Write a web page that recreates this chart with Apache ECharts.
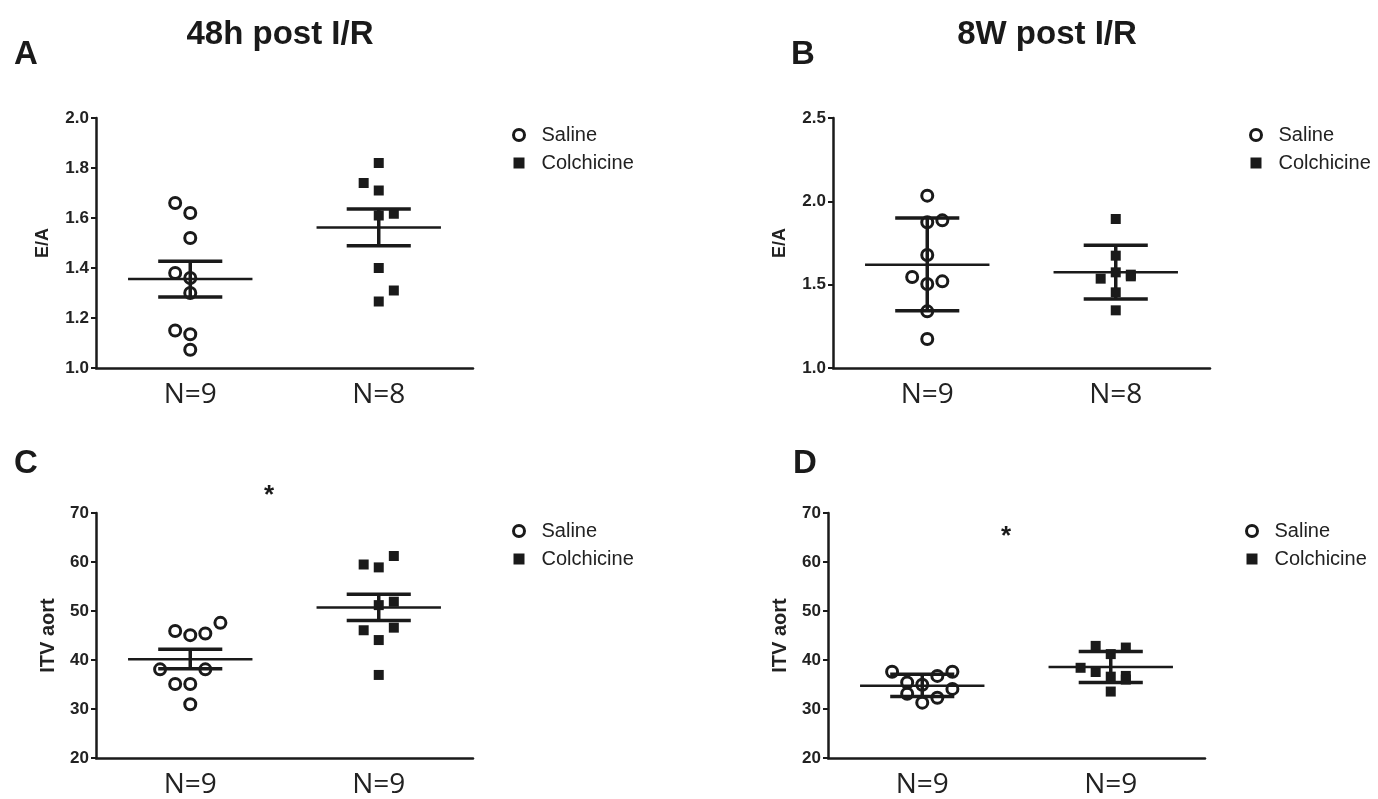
<!DOCTYPE html>
<html>
<head>
<meta charset="utf-8">
<script src="https://cdn.jsdelivr.net/npm/echarts@6/dist/echarts.min.js"></script>
<style>
  html, body { margin: 0; padding: 0; background: #fff; }
  #charts { width: 1378px; height: 799px; }
</style>
</head>
<body>
<div id="charts"></div>
<script>
// data
var groupNames = ['Saline', 'Colchicine'];

// A: E/A 48h
var labelsA = ['N=9', 'N=8'];
var salineA = [1.66, 1.62, 1.52, 1.38, 1.36, 1.30, 1.15, 1.135, 1.073];
var salineAJit = [-1, 0, 0, -1, 0, 0, -1, 0, 0];
var colchA = [1.82, 1.74, 1.71, 1.61, 1.617, 1.40, 1.31, 1.266];
var colchAJit = [0, -1, 0, 0, 1, 0, 1, 0];
var statsA = [[1.356, 1.284, 1.427], [1.562, 1.489, 1.636]]; // mean, low, high

// B: E/A 8W
var labelsB = ['N=9', 'N=8'];
var salineB = [2.034, 1.874, 1.886, 1.678, 1.546, 1.52, 1.504, 1.34, 1.174];
var salineBJit = [0, 0, 1, 0, -1, 1, 0, 0, 0];
var colchB = [1.894, 1.674, 1.574, 1.536, 1.56, 1.454, 1.346, 1.55];
var colchBJit = [0, 0, 0, -1, 1, 0, 0, 1];
var statsB = [[1.620, 1.344, 1.900], [1.574, 1.414, 1.736]];

// C: ITV aort 48h
var labelsC = ['N=9', 'N=9'];
var salineC = [45.93, 45.07, 45.4, 47.58, 38.09, 38.09, 35.1, 35.1, 30.97];
var salineCJit = [-1, 0, 1, 2, -2, 1, -1, 0, 0];
var colchC = [61.22, 59.49, 58.9, 51.9, 51.2, 46.07, 46.6, 44.07, 36.95];
var colchCJit = [1, -1, 0, 1, 0, -1, 1, 0, 0];
var statsC = [[40.14, 38.2, 42.2], [50.71, 48.06, 53.4]];

// D: ITV aort 8W
var labelsD = ['N=9', 'N=9'];
var salineD = [37.6, 36.75, 37.6, 35.42, 34.96, 34.1, 33.1, 32.3, 31.3];
var salineDJit = [-2, 1, 2, -1, 0, 2, -1, 1, 0];
var colchD = [42.88, 42.54, 41.2, 38.41, 37.55, 36.6, 36.75, 33.56, 36.0];
var colchDJit = [-1, 1, 0, -2, -1, 0, 1, 0, 1];
var statsD = [[34.76, 32.56, 37.1], [38.55, 35.42, 41.74]];

var INK = '#1a1a1a';
var JIT = 0.08;

var chart = echarts.init(document.getElementById('charts'));

function toPoints(vals, jit, g) {
    return vals.map(function (v, i) { return [g + jit[i] * JIT, v]; });
}

// mean line + error bar with caps
function errRender(params, api) {
    var x = api.value(0);
    var c = api.coord([x, api.value(1)]);
    var lo = api.coord([x, api.value(2)]);
    var hi = api.coord([x, api.value(3)]);
    var hm = api.size([0.33, 0])[0];
    var hc = api.size([0.17, 0])[0];
    var thin = { stroke: INK, lineWidth: 2.5 };
    var thick = { stroke: INK, lineWidth: 3.5 };
    return {
        type: 'group',
        children: [
            { type: 'line', shape: { x1: c[0] - hm, y1: c[1], x2: c[0] + hm, y2: c[1] }, style: thin },
            { type: 'line', shape: { x1: lo[0], y1: lo[1], x2: hi[0], y2: hi[1] }, style: thick },
            { type: 'line', shape: { x1: lo[0] - hc, y1: lo[1], x2: lo[0] + hc, y2: lo[1] }, style: thick },
            { type: 'line', shape: { x1: hi[0] - hc, y1: hi[1], x2: hi[0] + hc, y2: hi[1] }, style: thick }
        ]
    };
}

var panels = [
    { box: { left: 96, top: 118, width: 377, height: 250 }, labels: labelsA, yname: 'E/A', ymin: 1.0, ymax: 2.0, step: 0.2, dec: 1,
      s: salineA, sj: salineAJit, c: colchA, cj: colchAJit, stats: statsA, legend: [507, 120] },
    { box: { left: 833, top: 118, width: 377, height: 250 }, labels: labelsB, yname: 'E/A', ymin: 1.0, ymax: 2.5, step: 0.5, dec: 1,
      s: salineB, sj: salineBJit, c: colchB, cj: colchBJit, stats: statsB, legend: [1244, 120] },
    { box: { left: 96, top: 513, width: 377, height: 251 }, labels: labelsC, yname: 'ITV aort', ymin: 20, ymax: 70, step: 10, dec: 0,
      s: salineC, sj: salineCJit, c: colchC, cj: colchCJit, stats: statsC, legend: [507, 516] },
    { box: { left: 828, top: 513, width: 377, height: 251 }, labels: labelsD, yname: 'ITV aort', ymin: 20, ymax: 70, step: 10, dec: 0,
      s: salineD, sj: salineDJit, c: colchD, cj: colchDJit, stats: statsD, legend: [1240, 516] }
];

var grid = [], xAxis = [], yAxis = [], series = [], legend = [];

panels.forEach(function (p, k) {
    grid.push(p.box);
    xAxis.push({
        type: 'value', gridIndex: k, min: -0.5, max: 1.5,
        splitLine: { show: false },
        axisTick: { show: false },
        axisLine: { show: true, onZero: false, lineStyle: { color: INK, width: 2.5 } },
        axisLabel: {
            customValues: [0, 1],
            margin: 13,
            color: '#222',
            fontFamily: 'Open Sans',
            fontSize: 28,
            formatter: (function (labels) { return function (v) { return labels[Math.round(v)]; }; })(p.labels)
        }
    });
    yAxis.push({
        type: 'value', gridIndex: k, min: p.ymin, max: p.ymax, interval: p.step,
        name: p.yname, nameLocation: 'middle', nameRotate: 90,
        nameGap: k < 2 ? 44 : 38,
        nameTextStyle: { fontFamily: 'Liberation Sans', fontWeight: 'bold', fontSize: k < 2 ? 18 : 20, color: '#222' },
        splitLine: { show: false },
        axisLine: { show: true, onZero: false, lineStyle: { color: INK, width: 2.5 } },
        axisTick: { show: true, length: 5, lineStyle: { color: INK, width: 2 } },
        axisLabel: {
            margin: 7, color: '#222', fontFamily: 'Liberation Sans', fontWeight: 'bold', fontSize: 17,
            formatter: (function (d) { return function (v) { return v.toFixed(d); }; })(p.dec)
        }
    });
    series.push({
        name: 'Saline', type: 'scatter', xAxisIndex: k, yAxisIndex: k,
        symbol: 'circle', symbolSize: 11,
        itemStyle: { color: 'rgba(0,0,0,0)', borderColor: INK, borderWidth: 3, opacity: 1 },
        data: toPoints(p.s, p.sj, 0), z: 3
    });
    series.push({
        name: 'Colchicine', type: 'scatter', xAxisIndex: k, yAxisIndex: k,
        symbol: 'rect', symbolSize: 10,
        itemStyle: { color: INK, opacity: 1 },
        data: toPoints(p.c, p.cj, 1), z: 3
    });
    series.push({
        name: 'err' + k, type: 'custom', xAxisIndex: k, yAxisIndex: k,
        renderItem: errRender, z: 4, silent: true,
        data: p.stats.map(function (st, g) { return [g, st[0], st[1], st[2]]; })
    });
    legend.push({
        orient: 'vertical', left: p.legend[0], top: p.legend[1],
        itemWidth: 11, itemHeight: 11, itemGap: 8,
        textStyle: { fontFamily: 'Liberation Sans', fontSize: 20, color: '#222', padding: [0, 0, 0, 12] },
        data: [
            { name: 'Saline', icon: 'circle', itemStyle: { color: '#fff', borderColor: INK, borderWidth: 3 } },
            { name: 'Colchicine', icon: 'rect', itemStyle: { color: INK, borderWidth: 0 } }
        ]
    });
});

var bold = function (txt, x, y, size, align) {
    return { type: 'text', x: x, y: y, style: { text: txt, fill: '#1a1a1a', font: 'bold ' + size + 'px "Liberation Sans"', textAlign: align || 'left', textVerticalAlign: 'middle' } };
};

chart.setOption({
    animation: false,
    backgroundColor: '#fff',
    grid: grid,
    xAxis: xAxis,
    yAxis: yAxis,
    legend: legend,
    series: series,
    graphic: [
        bold('48h post I/R', 280, 35, 33, 'center'),
        bold('8W post I/R', 1047, 35, 33, 'center'),
        bold('A', 14, 55, 33),
        bold('B', 791, 55, 33),
        bold('C', 14, 464, 33),
        bold('D', 793, 464, 33),
        bold('*', 269, 496, 26, 'center'),
        bold('*', 1006, 537, 26, 'center')
    ]
});
</script>
</body>
</html>
